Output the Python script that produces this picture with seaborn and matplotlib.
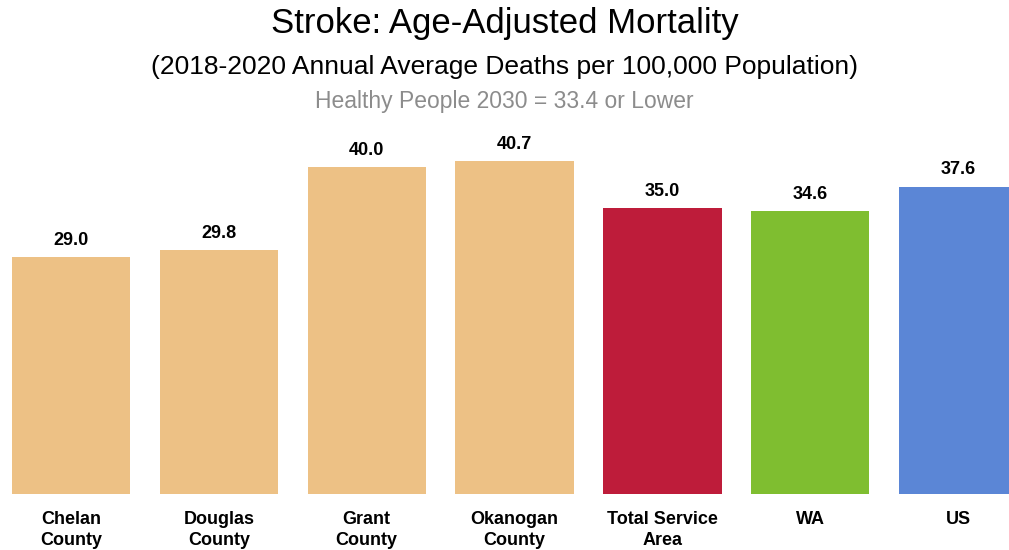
import seaborn as sns
import matplotlib.pyplot as plt
from matplotlib import font_manager

# Data
categories = ['Chelan\nCounty', 'Douglas\nCounty', 'Grant\nCounty', 'Okanogan\nCounty',
              'Total Service\nArea', 'WA', 'US']
values = [29.0, 29.8, 40.0, 40.7, 35.0, 34.6, 37.6]
colors = ['#EDC185', '#EDC185', '#EDC185', '#EDC185', '#BE1C3A', '#7FBE30', '#5B86D6']

names = {f.name for f in font_manager.fontManager.ttflist}
narrow = 'Liberation Sans Narrow' if 'Liberation Sans Narrow' in names else 'Liberation Sans'

sns.set_style('white')
plt.rcParams['font.family'] = [narrow, 'DejaVu Sans']

fig = plt.figure(figsize=(10.09, 5.5), dpi=100)
ax = fig.add_axes([-3 / 1009, 56 / 550, 1035 / 1009, 368 / 550])

sns.barplot(x=categories, y=values, hue=categories, palette=colors,
            width=0.8, legend=False, ax=ax, saturation=1, linewidth=0)
ax.set_ylim(0, 45)
ax.set_xlim(-0.5, 6.5)

for i, v in enumerate(values):
    ax.text(i, v + 1.0, f'{v:.1f}', ha='center', va='bottom',
            fontsize=13, fontweight='bold', color='#000000')

ax.set_yticks([])
ax.tick_params(axis='x', length=0, pad=12, labelsize=13, labelcolor='#000000')
for lbl in ax.get_xticklabels():
    lbl.set_fontweight('bold')
    lbl.set_linespacing(1.35)
sns.despine(ax=ax, left=True, bottom=True)

fig.text(0.5, 0.957, 'Stroke: Age-Adjusted Mortality', ha='center', va='center',
         fontsize=25, color='#000000')
fig.text(0.5, 0.878, '(2018-2020 Annual Average Deaths per 100,000 Population)',
         ha='center', va='center', fontsize=19, color='#000000')
fig.text(0.5, 0.815, 'Healthy People 2030 = 33.4 or Lower', ha='center', va='center',
         fontsize=16.5, color='#8C8C8C')

fig.savefig('out.png', dpi=100)
